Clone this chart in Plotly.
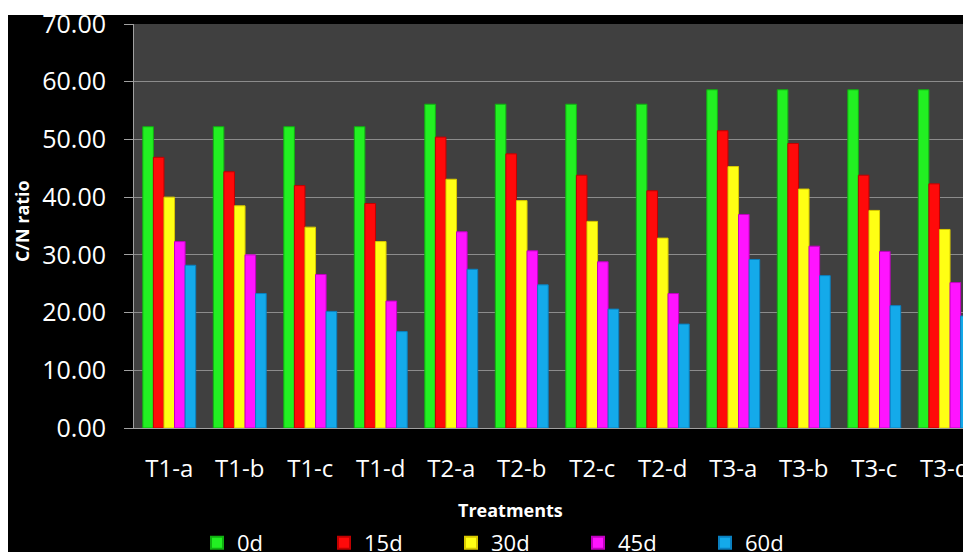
import plotly.graph_objects as go

# C/N ratio of each treatment over the composting period
treatments = ["T1-a", "T1-b", "T1-c", "T1-d",
              "T2-a", "T2-b", "T2-c", "T2-d",
              "T3-a", "T3-b", "T3-c", "T3-d"]

day_0 = [52.2, 52.2, 52.2, 52.2, 56.1, 56.1, 56.1, 56.1, 58.6, 58.6, 58.6, 58.6]
day_15 = [46.9, 44.4, 42.0, 38.9, 50.4, 47.5, 43.8, 41.1, 51.5, 49.3, 43.8, 42.3]
day_30 = [40.0, 38.5, 34.8, 32.3, 43.1, 39.4, 35.8, 32.9, 45.3, 41.4, 37.7, 34.4]
day_45 = [32.3, 30.0, 26.6, 22.0, 34.0, 30.7, 28.8, 23.3, 37.0, 31.5, 30.6, 25.2]
day_60 = [28.2, 23.3, 20.2, 16.7, 27.5, 24.8, 20.6, 18.0, 29.2, 26.4, 21.2, 19.4]

series_names = ["0d", "15d", "30d", "45d", "60d"]
series_values = [day_0, day_15, day_30, day_45, day_60]
fill_colors = ["#22f022", "#ff0a0a", "#ffff14", "#ff14ff", "#14aaea"]
edge_colors = ["#10b010", "#c00000", "#d8c800", "#c000c0", "#0a80c0"]

W, H = 963, 552
ML, MR, MT, MB = 134, 0, 24, 124
PW = W - ML - MR
PH = H - MT - MB


def px_x(p):
    return (p - ML) / PW


def px_y(p):
    return (H - MB - p) / PH


fig = go.Figure()
for name, vals, fc, ec in zip(series_names, series_values, fill_colors, edge_colors):
    fig.add_trace(go.Bar(
        x=treatments, y=vals, name=name,
        marker=dict(color=fc, line=dict(color=ec, width=1)),
    ))

font_family = "Open Sans"

fig.update_layout(
    width=W, height=H,
    margin=dict(l=ML, r=MR, t=MT, b=MB, pad=0, autoexpand=False),
    paper_bgcolor="#000000",
    plot_bgcolor="#404040",
    barmode="group",
    bargap=0.25,
    bargroupgap=0,
    font=dict(family=font_family, color="#ffffff"),
    showlegend=True,
    legend=dict(
        orientation="h",
        x=px_x(197), xanchor="left",
        y=px_y(543), yanchor="middle",
        font=dict(size=22, color="#ffffff", family=font_family),
        entrywidth=82, entrywidthmode="pixels",
        bgcolor="rgba(0,0,0,0)",
        traceorder="normal",
        itemsizing="constant",
    ),
    xaxis=dict(
        type="category",
        range=[-0.5, -0.5 + PW / 70.5],
        showgrid=False,
        showline=True, linecolor="#a0a0a0", linewidth=1,
        ticks="",
        tickfont=dict(size=24, color="#ffffff"),
        ticklabelstandoff=19,
        zeroline=False,
    ),
    yaxis=dict(
        range=[0, 70],
        dtick=10,
        tickformat=".2f",
        showgrid=True, gridcolor="#8c8c8c", gridwidth=1,
        showline=True, linecolor="#a0a0a0", linewidth=1,
        ticks="outside", ticklen=9, tickcolor="#a0a0a0", tickwidth=1,
        tickfont=dict(size=25, color="#ffffff"),
        ticklabelstandoff=13,
        zeroline=False,
    ),
    annotations=[
        dict(text="<b>C/N ratio</b>", xref="paper", yref="paper",
             x=px_x(22), y=px_y(221), xanchor="center", yanchor="middle",
             textangle=-90, showarrow=False,
             font=dict(size=18, color="#ffffff", family=font_family)),
        dict(text="<b>Treatments</b>", xref="paper", yref="paper",
             x=px_x(510), y=px_y(510), xanchor="center", yanchor="middle",
             showarrow=False,
             font=dict(size=18, color="#ffffff", family=font_family)),
    ],
    shapes=[
        # white page margins around the black chart panel
        dict(type="rect", xref="paper", yref="paper", layer="below",
             x0=px_x(0), x1=px_x(W + 5), y0=px_y(15), y1=px_y(-5),
             fillcolor="#ffffff", line=dict(width=0)),
        dict(type="rect", xref="paper", yref="paper", layer="below",
             x0=px_x(-5), x1=px_x(8), y0=px_y(H + 5), y1=px_y(-5),
             fillcolor="#ffffff", line=dict(width=0)),
    ],
)

fig.write_html("out.html")
